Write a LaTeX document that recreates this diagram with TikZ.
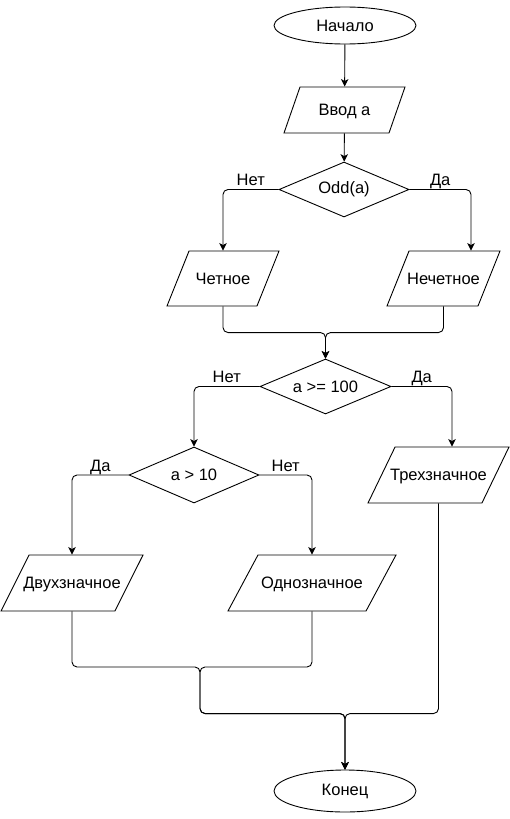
\documentclass[tikz,border=0pt]{standalone}
\usepackage{fontspec}
\setmainfont{Liberation Sans}
\usetikzlibrary{calc,shapes.geometric,arrows.meta}

\begin{document}
\begin{tikzpicture}[x=1pt,y=-1pt,line width=0.9pt,
  term/.style={ellipse, draw, minimum width=142pt, minimum height=#1, inner sep=0pt,
    font=\fontsize{16.5}{19}\selectfont},
  io/.style={trapezium, draw, trapezium left angle=#1, trapezium right angle={180-#1},
    trapezium stretches body, inner xsep=-25pt, inner ysep=0pt,
    text height=13.8pt, text depth=2.2pt, font=\fontsize{16.5}{19}\selectfont},
  test/.style={diamond, draw, aspect=2.36, inner sep=0pt, minimum width=130pt,
    minimum height=55pt, font=\fontsize{16.5}{19}\selectfont},
  answer/.style={above, inner sep=0.3pt, text depth=3pt, font=\fontsize{16.5}{19}\selectfont},
  flow/.style={draw, rounded corners=5pt, -{Stealth[length=7.5pt,width=7.5pt,inset=2pt]}}]
  \useasboundingbox (0,0) rectangle (510,819);

  %% Blocks of the flowchart
  \node[term=37pt] (START) at (345,25.5) {Начало};
  \node[io=45, minimum width=121pt, minimum height=46pt] (INPUT) at (344.5,110) {Ввод a};
  \node[test] (ODD) at (344,189.5) {Odd(a)};
  \node[io=36, minimum width=112pt, minimum height=55pt] (EVEN) at (223,278.5) {Четное};
  \node[io=36, minimum width=113pt, minimum height=55pt] (UNEVEN) at (443.5,278.5) {Нечетное};
  \node[test, minimum width=131pt] (HUNDRED) at (325.5,386.5) {a >= 100};
  \node[test, minimum height=56pt] (TEN) at (194,475) {a > 10};
  \node[io=30.6, minimum width=141pt, minimum height=56pt] (THREE) at (438.5,475) {Трехзначное};
  \node[io=29.7, minimum width=142pt, minimum height=56pt] (TWO) at (72,583) {Двухзначное};
  \node[io=28.1, minimum width=168pt, minimum height=56pt] (ONE) at (312,583) {Однозначное};
  \node[term=42pt] (END) at (345,791) {Конец};

  %% Points where the branches meet
  \coordinate (J1) at ($(HUNDRED.north)+(0,-26)$);
  \coordinate (J2) at (200,667);
  \coordinate (J3) at ($(END.north)+(0,-56)$);

  %% Connectors
  \draw[flow] (START) -- (INPUT);
  \draw[flow] (INPUT) -- (ODD);
  \draw[flow] (ODD.west) -| node[answer, pos=0.25] {Нет} (EVEN.north);
  \draw[flow] (ODD.east) -| node[answer, pos=0.25] {Да} ($(UNEVEN.north)+(27.5,0)$);
  \draw[flow] (EVEN.south) |- (J1) -- (HUNDRED.north);
  \draw[flow] (UNEVEN.south) |- (J1) -- (HUNDRED.north);
  \draw[flow] (HUNDRED.west) -| node[answer, pos=0.25] {Нет} (TEN.north);
  \draw[flow] (HUNDRED.east) -| node[answer, pos=0.25] {Да} ($(THREE.north)+(13.5,0)$);
  \draw[flow] (TEN.west) -| node[answer, pos=0.25] {Да} (TWO.north);
  \draw[flow] (TEN.east) -| node[answer, pos=0.25] {Нет} (ONE.north);
  \draw[flow] (TWO.south) |- (J2) |- (J3) -- (END.north);
  \draw[flow] (ONE.south) |- (J2) |- (J3) -- (END.north);
  \draw[flow] (THREE.south) |- (J3) -- (END.north);
\end{tikzpicture}
\end{document}
